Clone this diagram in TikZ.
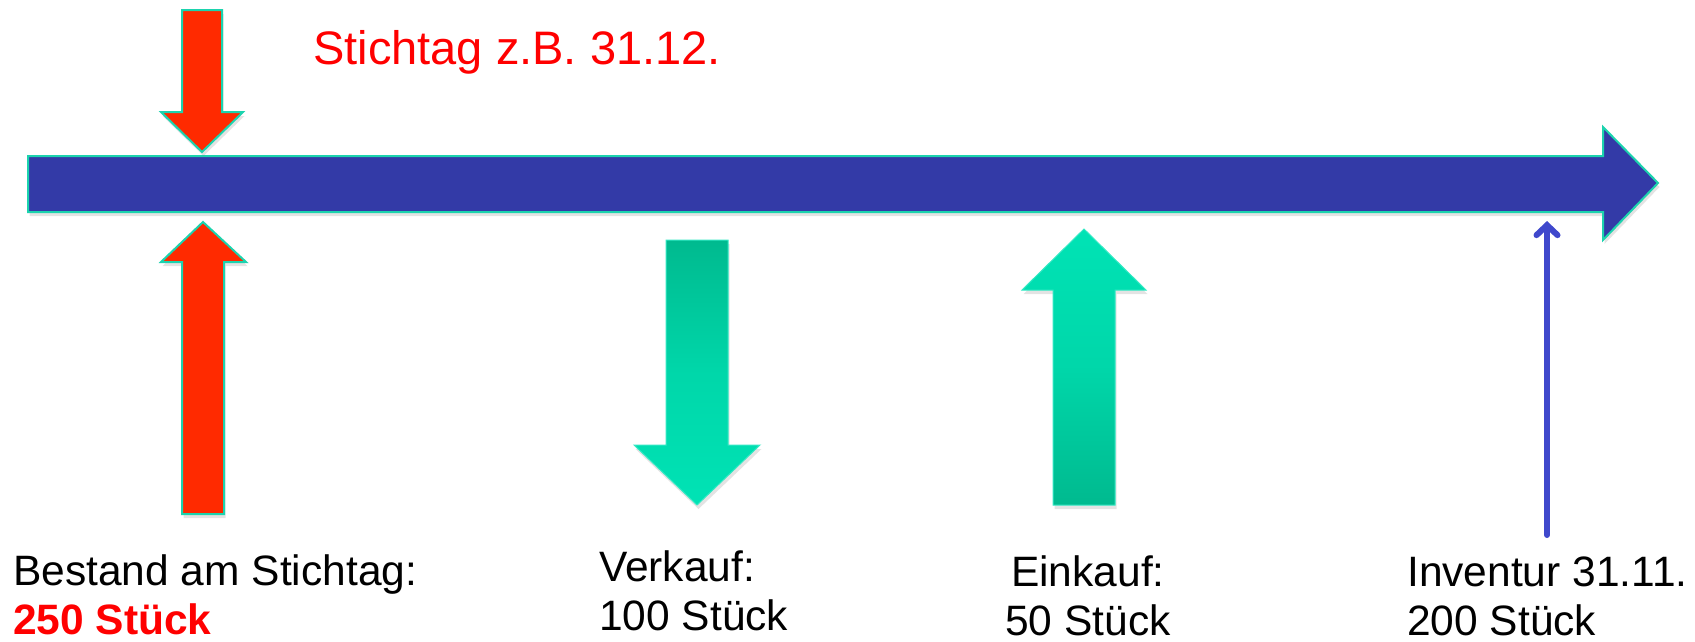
\documentclass[tikz,border=0pt]{standalone}
\usepackage{fontspec}
\setmainfont{Liberation Sans}
\usetikzlibrary{arrows.meta,shadows}
\definecolor{barblue}{HTML}{333AA7}
\definecolor{rimteal}{HTML}{1CD3AE}
\definecolor{arrred}{HTML}{FF2A00}
\definecolor{grdark}{HTML}{00BA8F}
\definecolor{grlight}{HTML}{00E3B5}
\definecolor{thinblue}{HTML}{3F48CC}
\definecolor{txtred}{HTML}{FF0000}
\tikzset{
  shad/.style={drop shadow={opacity=0.22,shadow xshift=1.5pt,shadow yshift=-4pt}},
  redarrow/.style={shad,fill=arrred,draw=rimteal,line width=2pt},
  bararrow/.style={shad,fill=barblue,draw=rimteal,line width=2pt},
  greenarrow/.style={shad,draw=grlight!80!white,line width=1pt},
  thinarrow/.style={draw=thinblue,line width=6pt,line cap=round,-{Straight Barb[length=10pt,width=21pt,line cap=round]}},
  lbl/.style={anchor=base west,inner sep=0pt,font=\fontsize{42.5}{49}\selectfont,align=left},
  ttl/.style={anchor=base west,inner sep=0pt,font=\fontsize{47}{56}\selectfont,text=txtred}
}
\begin{document}
\begin{tikzpicture}[x=1pt,y=-1pt]
\useasboundingbox (0,0) rectangle (1695,641);
% time bar
\path[bararrow] (28,156) -- (1603,156) -- (1603,127) -- (1658,183) -- (1603,240) -- (1603,212) -- (28,212) -- cycle;
% red arrow from top
\path[redarrow] (182,10) -- (222,10) -- (222,112) -- (243,112) -- (202,152) -- (161,112) -- (182,112) -- cycle;
% red arrow from below
\path[redarrow] (182,514) -- (182,262) -- (161,262) -- (203,222) -- (246,262) -- (224,262) -- (224,514) -- cycle;
% green down arrow (Verkauf)
\path[greenarrow,top color=grdark,bottom color=grlight,middle color=grlight!70!grdark] (666,240) -- (728,240) -- (728,445) -- (760,445) -- (697,505) -- (634,445) -- (666,445) -- cycle;
% green up arrow (Einkauf)
\path[greenarrow,top color=grlight,bottom color=grdark,middle color=grlight!70!grdark] (1053,505) -- (1053,290) -- (1022,290) -- (1084,229) -- (1146,290) -- (1115,290) -- (1115,505) -- cycle;
% thin blue arrow (Inventur)
\coordinate (invbot) at (1547,535);
\coordinate (invtop) at (1547,221);
\draw[thinarrow] (invbot) -- (invtop);
% texts
\node[ttl] (title) at (313,64) {Stichtag z.B. 31.12.};
\node[lbl] (bestand) at (13,634) {Bestand am Stichtag:\\{\color{txtred}\bfseries 250 Stück}};
\node[lbl] (verkauf) at (599,630) {Verkauf:\\100 Stück};
\node[lbl,align=center] (einkauf) at (1005,635) {Einkauf:\\50 Stück};
\node[lbl] (inventur) at (1407,635) {Inventur 31.11.\\200 Stück};
\end{tikzpicture}
\end{document}
